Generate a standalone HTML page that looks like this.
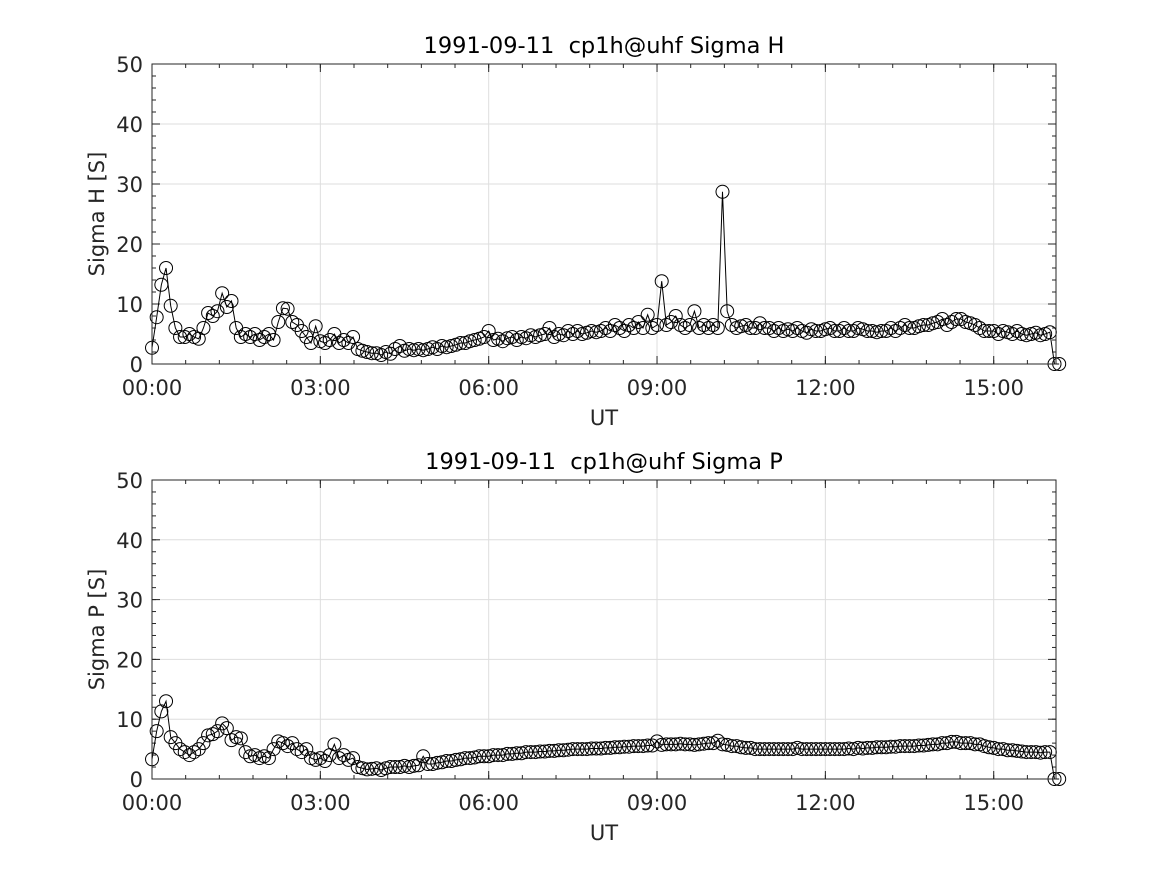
<!DOCTYPE html>
<html><head><meta charset="utf-8"><style>
body{margin:0;background:#fff}
svg{display:block;font-family:"DejaVu Sans","Liberation Sans",sans-serif}
</style></head><body>
<svg id="chart" width="1167" height="875" viewBox="0 0 1167 875"></svg>
<script>
const sigmaH = [
2.7,7.8,13.2,16,9.7,6,4.5,4.5,5,4.5,4.2,6,
8.5,8,8.8,11.8,9.5,10.5,6,4.5,5,4.5,5,4,
4.5,5,4,7,9.3,9.2,7,6.5,5.5,4.5,3.5,6.3,
3.8,3.5,4,5,3.5,4,3.5,4.5,2.5,2.2,2,1.8,
1.8,1.5,2,1.7,2.5,3,2.2,2.5,2.3,2.5,2.3,2.5,
2.8,2.5,3,2.8,3,3.2,3.5,3.5,3.8,4,4.2,4.5,
5.5,4,4.2,3.8,4.3,4.5,4,4.5,4.3,4.8,4.5,4.8,
5,6,4.5,5,4.8,5.5,5,5.5,5,5.2,5.5,5.3,
5.5,6,5.5,6.5,6,5.5,6.5,6,7,6,8.2,6,
6.5,13.8,6.5,7,8,6.5,6,6.5,8.8,6,6.5,6,
6.5,6,28.7,8.8,6.5,6,6.3,6.5,6,6,6.8,6,
6,5.5,6,5.5,5.8,5.5,6,5.5,5.2,5.8,5.5,5.5,
5.8,6,5.5,5.5,6,5.5,5.5,6,5.8,5.5,5.5,5.3,
5.5,5.5,6,5.5,6,6.5,6,6,6.3,6.5,6.5,6.8,
7,7.5,6.5,7,7.5,7.5,7,6.8,6.5,6,5.5,5.5,
5.5,5,5.5,5.3,5,5.5,5,4.8,5,5.2,4.8,5,
5.3,0,0];
const sigmaP = [
3.3,8,11.3,13,7,6,5,4.5,4,4.5,5,6,
7.3,7.5,8,9.3,8.5,6.5,7,6.8,4.5,3.8,4,3.5,
3.8,3.5,5,6.3,6,5.5,6,5,4.5,5,3.5,3.2,
3.5,3,4,5.8,3.5,4,3.2,3.5,2,1.8,1.6,1.7,
1.8,1.5,1.8,2,2,2,2.2,2,2.2,2.3,3.8,2.5,
2.5,2.7,2.8,3,3,3.2,3.3,3.5,3.5,3.6,3.8,3.8,
3.8,4,4,4,4.2,4.2,4.3,4.3,4.5,4.5,4.5,4.6,
4.6,4.7,4.7,4.8,4.8,4.9,5,5,5,5,5.1,5.1,
5.1,5.2,5.2,5.3,5.3,5.4,5.4,5.5,5.5,5.5,5.6,5.6,
6.3,5.7,5.8,5.8,5.8,5.9,5.8,5.8,5.7,5.8,5.9,6,
6,6.4,5.8,5.7,5.5,5.5,5.3,5.2,5.2,5,5,5,
5,5,5,5,5,5,5.2,5,5,5,5,5,
5,5,5,5,5,5.1,5,5.2,5.1,5.2,5.2,5.3,
5.3,5.3,5.4,5.4,5.5,5.5,5.5,5.5,5.6,5.6,5.7,5.8,
5.8,6,6,6.2,6.2,6,6,6,5.8,5.8,5.5,5.3,
5.2,5,5,4.8,4.8,4.7,4.6,4.5,4.5,4.5,4.4,4.5,
4.5,0,0];
const xTickHours = [0,3,6,9,12,15];
const xTickLabels = ["00:00","03:00","06:00","09:00","12:00","15:00"];
const yTicks = [0,10,20,30,40,50];
const stepMinutes = 5;
const xMaxHours = 16.11;

const NS="http://www.w3.org/2000/svg";
const svg=document.getElementById('chart');
function mk(tag,attrs,parent){const e=document.createElementNS(NS,tag);for(const k in attrs)e.setAttribute(k,attrs[k]);(parent||svg).appendChild(e);return e;}
const L=152,R=1056;
function xs(h){return L+(R-L)*h/xMaxHours;}
function panel(top,bot,data,title,ylab,key){
  const g=mk('g',{});
  
  
  const ys=v=>bot-(bot-top)*v/50;
  xTickHours.forEach(h=>{const l=mk('line',{x1:xs(h),x2:xs(h),y1:top,y2:bot,stroke:'#dedede','stroke-width':1},g);});
  yTicks.forEach(v=>{const l=mk('line',{x1:L,x2:R,y1:ys(v),y2:ys(v),stroke:'#dedede','stroke-width':1},g);});
  for(let h=0;h<=xMaxHours;h+=0.6){const x=xs(h);mk('line',{x1:x,x2:x,y1:bot,y2:bot-4,stroke:'#262626'},g);mk('line',{x1:x,x2:x,y1:top,y2:top+4,stroke:'#262626'},g);}
  for(let v=0;v<=50;v+=2){const y=ys(v);mk('line',{x1:L,x2:L+4,y1:y,y2:y,stroke:'#262626'},g);mk('line',{x1:R,x2:R-4,y1:y,y2:y,stroke:'#262626'},g);}
  xTickHours.forEach(h=>{const x=xs(h);mk('line',{x1:x,x2:x,y1:bot,y2:bot-8,stroke:'#262626'},g);mk('line',{x1:x,x2:x,y1:top,y2:top+8,stroke:'#262626'},g);});
  yTicks.forEach(v=>{const y=ys(v);mk('line',{x1:L,x2:L+8,y1:y,y2:y,stroke:'#262626'},g);mk('line',{x1:R,x2:R-8,y1:y,y2:y,stroke:'#262626'},g);});
  const pts=data.map((v,i)=>[xs(i*stepMinutes/60),ys(v)]);
  const line=mk('polyline',{points:pts.map(p=>p.join(',')).join(' '),fill:'none',stroke:'#000','stroke-width':1},g);
  
  
  pts.forEach(p=>{const c=mk('circle',{cx:p[0],cy:p[1],r:6.5,fill:'none',stroke:'#000','stroke-width':1},g);
    
    });
  const b=mk('rect',{x:L,y:top,width:R-L,height:bot-top,fill:'none',stroke:'#262626','stroke-width':1},g);
  
  
  xTickHours.forEach((h,i)=>{const t=mk('text',{x:xs(h),y:bot+31,'text-anchor':'middle','font-size':21,fill:'#262626'},g);t.textContent=xTickLabels[i];
    });
  yTicks.forEach(v=>{const t=mk('text',{x:L-9,y:ys(v)+8,'text-anchor':'end','font-size':21,fill:'#262626'},g);t.textContent=v;
    });
  const xt=mk('text',{x:(L+R)/2,y:bot+61,'text-anchor':'middle','font-size':21,fill:'#262626'},g);xt.textContent='UT';
  
  const yy=(top+bot)/2;
  const yt=mk('text',{x:104,y:yy,'text-anchor':'middle','font-size':21,fill:'#262626',transform:'rotate(-90 104 '+yy+')'},g);yt.textContent=ylab;
  
  const tt=mk('text',{x:(L+R)/2,y:top-11,'text-anchor':'middle','font-size':22.5,fill:'#000'},g);tt.textContent=title;
  
  tt.setAttribute('xml:space','preserve');tt.style.whiteSpace='pre';
}
panel(64,364,sigmaH,'1991-09-11  cp1h@uhf Sigma H','Sigma H [S]','sigma-h');
panel(480,779,sigmaP,'1991-09-11  cp1h@uhf Sigma P','Sigma P [S]','sigma-p');
</script>
</body></html>
